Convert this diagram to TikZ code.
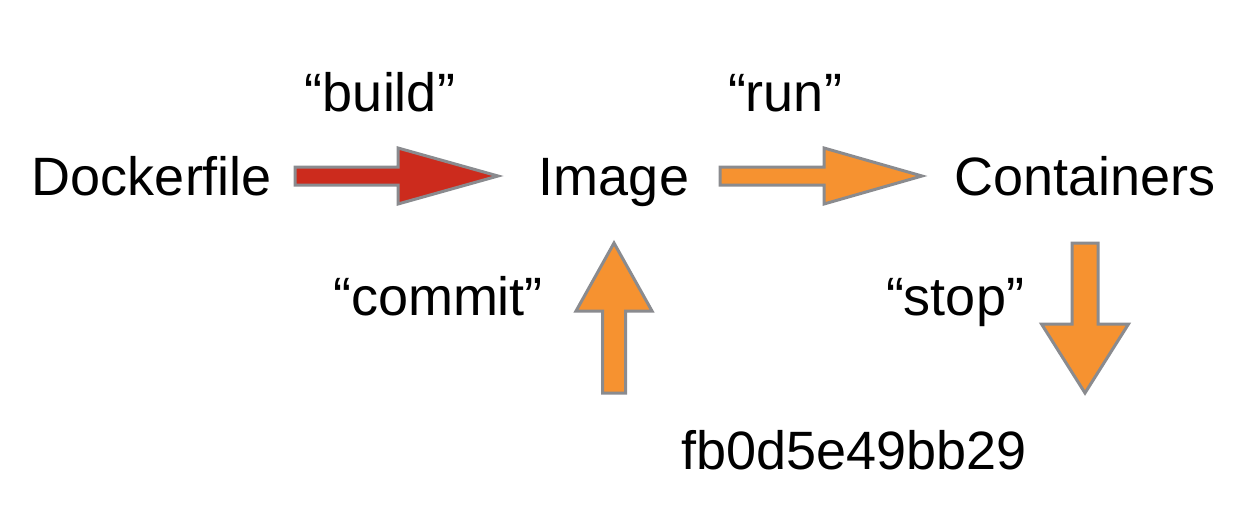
\documentclass[tikz,border=0pt]{standalone}
\usepackage{fontspec}
\setmainfont{Liberation Sans}
\definecolor{clrBuild}{HTML}{CC2B1D}
\definecolor{clrFlow} {HTML}{F69230}
\definecolor{clrEdge} {HTML}{8A8B8F}
\tikzset{
  word/.style = {anchor=base, inner sep=0pt,
                 font=\fontsize{27}{32}\selectfont},
  blk/.style    = {draw=clrEdge, line width=1.5pt, line join=miter},
  blkred/.style = {blk, fill=clrBuild},
  blkorg/.style = {blk, fill=clrFlow},
}
\begin{document}
\begin{tikzpicture}[x=0.5pt, y=-0.5pt]
\useasboundingbox (0,0) rectangle (1240,524);

% ── main row ────────────────────────────────────────────────
\node[word] (dock) at (152,195)  {Dockerfile};
\node[word] (img)  at (614,195)  {Image};
\node[word] (cont) at (1085,195) {Containers};

% ── verbs ───────────────────────────────────────────────────
\node[word] (build)  at (380,112) {“build”};
\node[word] (run)    at (785,112) {“run”};
\node[word] (commit) at (438,315) {“commit”};
\node[word] (stop)   at (955,315) {“stop”};
\node[word] (hash)   at (854,469) {fb0d5e49bb29};

% ── block arrows (tail / tip) ───────────────────────────────
\coordinate (build0) at (295,176);
\coordinate (build1) at (498,176);
\coordinate (run0)   at (720,176);
\coordinate (run1)   at (922,176);
\coordinate (up0)    at (614,393);
\coordinate (up1)    at (614,243);
\coordinate (down0)  at (1085,243);
\coordinate (down1)  at (1085,393);

% Dockerfile -> Image
\draw[blkred] (build0) ++(0,-9) -- ++(103,0) -- ++(0,-19) -- (build1)
  -- ++(-100,28) -- ++(0,-19) -- ++(-103,0) -- cycle;

% Image -> Containers
\draw[blkorg] (run0) ++(0,-9) -- ++(104,0) -- ++(0,-19) -- (run1)
  -- ++(-98,28) -- ++(0,-19) -- ++(-104,0) -- cycle;

% commit, up into Image
\draw[blkorg] (up0) ++(-11.5,0) -- ++(0,-82) -- ++(-26.5,0) -- (up1)
  -- ++(38,68) -- ++(-26.5,0) -- ++(0,82) -- cycle;

% stop, down from Containers
\draw[blkorg] (down0) ++(-13,0) -- ++(0,81) -- ++(-30.5,0) -- (down1)
  -- ++(43.5,-69) -- ++(-30.5,0) -- ++(0,-81) -- cycle;

\end{tikzpicture}
\end{document}
